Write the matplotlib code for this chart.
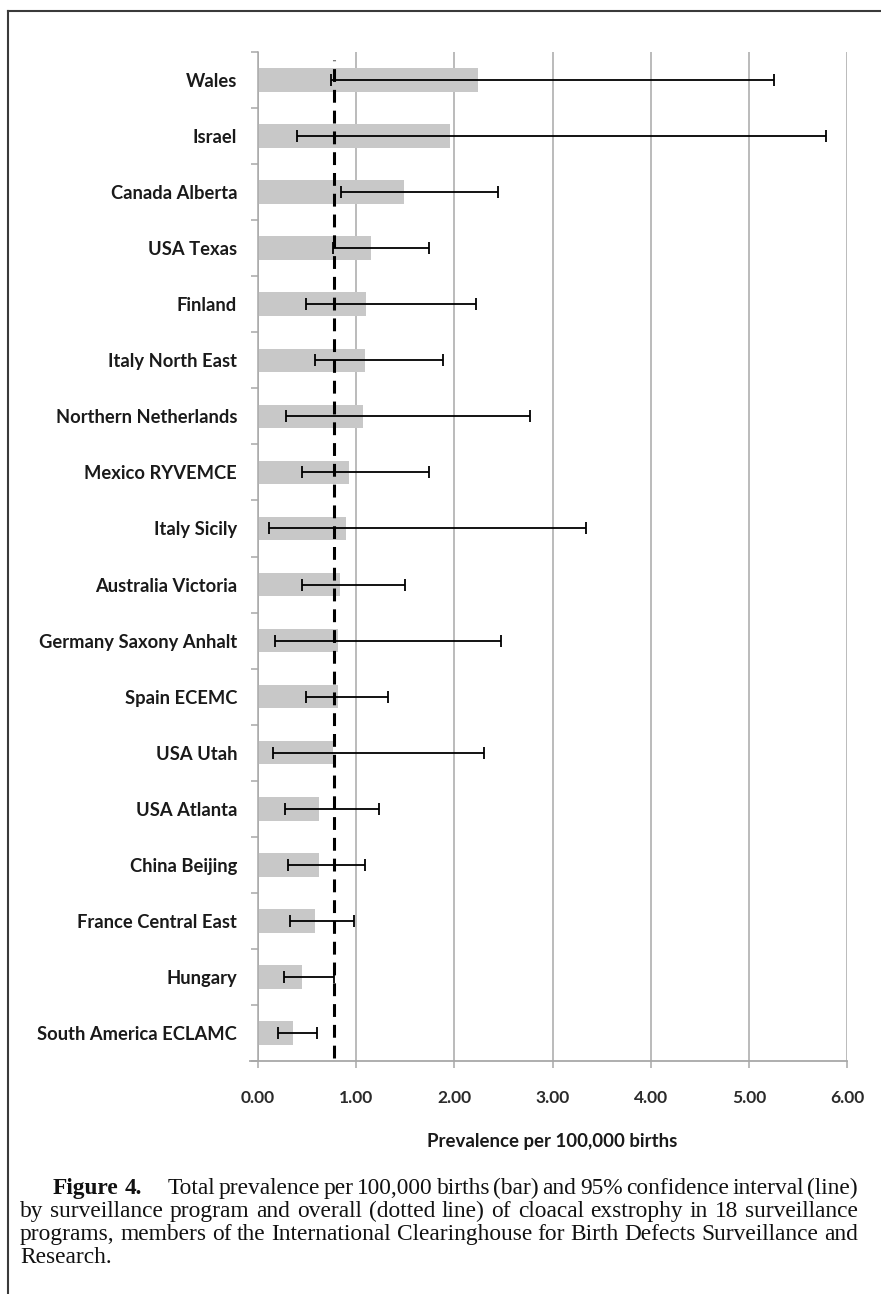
import numpy as np
import matplotlib
matplotlib.use("Agg")
from matplotlib import pyplot as plt
from matplotlib.lines import Line2D

programs = ["Wales", "Israel", "Canada Alberta", "USA Texas", "Finland",
            "Italy North East", "Northern Netherlands", "Mexico RYVEMCE",
            "Italy Sicily", "Australia Victoria", "Germany Saxony Anhalt",
            "Spain ECEMC", "USA Utah", "USA Atlanta", "China Beijing",
            "France Central East", "Hungary", "South America ECLAMC"]
prevalence = [2.24, 1.96, 1.49, 1.15, 1.10, 1.09, 1.07, 0.93, 0.90,
              0.84, 0.82, 0.81, 0.76, 0.62, 0.62, 0.58, 0.45, 0.36]
ci_low = [0.74, 0.40, 0.85, 0.76, 0.49, 0.58, 0.29, 0.45, 0.11,
          0.45, 0.17, 0.49, 0.15, 0.27, 0.31, 0.33, 0.26, 0.20]
ci_high = [5.26, 5.79, 2.44, 1.74, 2.22, 1.88, 2.77, 1.74, 3.34,
           1.50, 2.48, 1.32, 2.30, 1.23, 1.09, 0.98, 0.77, 0.60]
overall = 0.77
xticks = [0, 1, 2, 3, 4, 5, 6]

caption_lines = [
    "Total prevalence per 100,000 births (bar) and 95% confidence interval (line)",
    "by surveillance program and overall (dotted line) of cloacal exstrophy in 18 surveillance",
    "programs, members of the International Clearinghouse for Birth Defects Surveillance and",
    "Research.",
]

W, H = 881, 1294
fig = plt.figure(figsize=(W / 100, H / 100), dpi=100)

# frame around the figure (top and left only)
fig.add_artist(Line2D([8 / W, 8 / W], [0, 1 - 11 / H], color="#3a3a3a", lw=1.5))
fig.add_artist(Line2D([8 / W, 1], [1 - 11 / H, 1 - 11 / H], color="#3a3a3a", lw=1.5))

ax = fig.add_axes([258 / W, 1 - 1061 / H, (847 - 258) / W, (1061 - 52) / H])

y = np.arange(len(programs))
vals = np.array(prevalence)
xerr = [vals - np.array(ci_low), np.array(ci_high) - vals]

ax.barh(y, vals, height=0.42, color="#c8c8c8", zorder=2)
ax.errorbar(vals, y, xerr=xerr, fmt="none", ecolor="black", elinewidth=1.3,
            capsize=4, capthick=1.3, zorder=4)
ax.axvline(overall, ymin=0.003, ymax=0.992, color="black", lw=2.2,
           dashes=(4.2, 2.6), zorder=5)

ax.set_xlim(0, 6)
ax.set_ylim(len(programs) - 0.5, -0.5)
ax.set_xticks(xticks)
ax.set_xticklabels([f"{v:.2f}" for v in xticks])
ax.grid(axis="x", color="#a8a8a8", lw=1.1, zorder=0)
ax.set_axisbelow(True)

for s in ["top", "right", "bottom"]:
    ax.spines[s].set_visible(False)
ax.spines["left"].set_color("#a8a8a8")
ax.spines["left"].set_linewidth(1.1)
# x axis line runs a little past zero
ax.plot([-0.08, 6], [len(programs) - 0.5] * 2, color="#a8a8a8", lw=1.3,
        clip_on=False, zorder=3)

ax.set_yticks(y)
ax.set_yticklabels(programs)
ax.set_yticks(np.arange(-0.5, len(programs), 1), minor=True)
ax.tick_params(axis="y", which="major", length=0, pad=15)
ax.tick_params(axis="y", which="minor", length=5, color="#a8a8a8", width=1.1)
ax.tick_params(axis="x", length=5, color="#a8a8a8", width=1.1, pad=16)

for lab in ax.get_yticklabels():
    lab.set_fontfamily("Lato")
    lab.set_fontweight("bold")
    lab.set_fontsize(13.2)
    lab.set_color("#1a1a1a")
for lab in ax.get_xticklabels():
    lab.set_fontfamily("Lato")
    lab.set_fontweight("bold")
    lab.set_fontsize(12.5)
    lab.set_color("#2a2a2a")

ax.set_xlabel("Prevalence per 100,000 births", fontfamily="Lato",
              fontweight="bold", fontsize=13.4, color="#1a1a1a", labelpad=19)

# justified caption in a serif face
renderer = fig.canvas.get_renderer()
serif = "Liberation Serif"
x_left = 20
x_right = 858
baselines = [1194, 1217, 1240, 1263]

# size the caption so the second line fills the text block with plain spaces
probe = fig.text(0, 0, caption_lines[1], fontfamily=serif, fontsize=10)
probe_w = probe.get_window_extent(renderer).width
probe.remove()
cap_size = 10 * (x_right - x_left) / probe_w * 0.985


def put_words(words, x0, x1, ybase, justify, weight="normal"):
    arts = []
    for wd in words:
        t = fig.text(0, 1 - ybase / H, wd, fontfamily=serif, fontsize=cap_size,
                     fontweight=weight, va="baseline", ha="left", color="#111111")
        arts.append(t)
    widths = [a.get_window_extent(renderer).width for a in arts]
    if justify and len(arts) > 1:
        gap = (x1 - x0 - sum(widths)) / (len(arts) - 1)
    else:
        sp = fig.text(0, 0, "a a", fontfamily=serif, fontsize=cap_size)
        sp2 = fig.text(0, 0, "aa", fontfamily=serif, fontsize=cap_size)
        gap = sp.get_window_extent(renderer).width - sp2.get_window_extent(renderer).width
        sp.remove()
        sp2.remove()
    x = x0
    for a, w in zip(arts, widths):
        a.set_x(x / W)
        x += w + gap
    return x - gap


end = put_words(["Figure", "4."], 53, None, baselines[0], False, weight="bold")
put_words(caption_lines[0].split(), end + 26, x_right, baselines[0], True)
put_words(caption_lines[1].split(), x_left, x_right, baselines[1], True)
put_words(caption_lines[2].split(), x_left, x_right, baselines[2], True)
put_words(caption_lines[3].split(), x_left, x_right, baselines[3], False)

fig.savefig("out.png", dpi=100)
